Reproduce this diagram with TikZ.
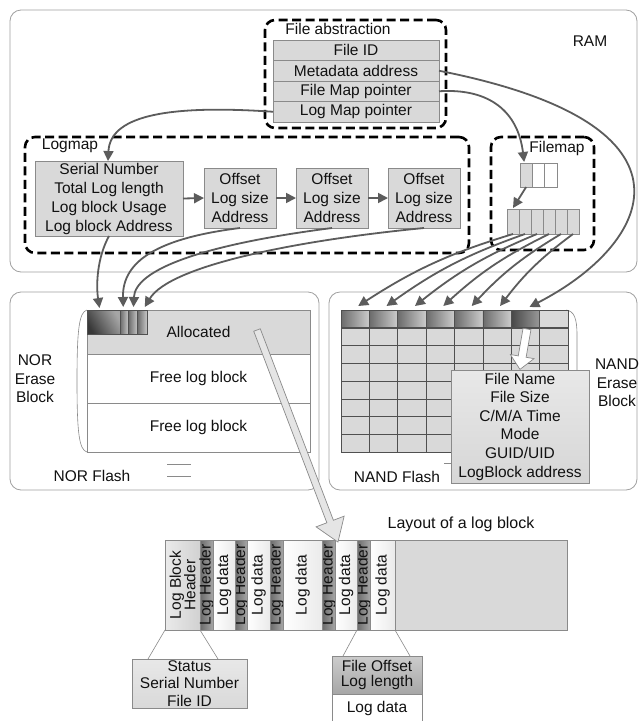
\documentclass[tikz,border=0pt]{standalone}
\usepackage{fontspec}
\setmainfont{Liberation Sans}
\usetikzlibrary{arrows.meta,calc,fit}
\definecolor{boxgray}{HTML}{D9D9D9}
\definecolor{edgegray}{HTML}{8A8A8A}
\definecolor{arrowgray}{HTML}{5C5C5C}
\definecolor{framegray}{HTML}{A0A0A0}
\definecolor{gridgray}{HTML}{505050}
\definecolor{txt}{HTML}{111111}
\begin{document}
\begin{tikzpicture}[x=1pt,y=-1pt,
  every node/.style={font=\fontsize{15.5}{19}\selectfont, text=txt, inner sep=0pt, outer sep=0pt},
  region/.style={draw=framegray, line width=0.8pt, rounded corners=11pt},
  dashbox/.style={draw=black, line width=2.6pt, dash pattern=on 9pt off 4.5pt, rounded corners=10pt},
  gbox/.style={draw=edgegray, fill=boxgray, line width=0.8pt},
  wbox/.style={draw=edgegray, fill=white, line width=0.8pt},
  conn/.style={draw=arrowgray, line width=1.8pt, -{Triangle[length=10pt,width=10pt]}},
  fineline/.style={draw=edgegray, line width=0.6pt},
  hdA/.style={draw=gridgray, line width=0.6pt, left color=black!58, right color=black!20},
  hdB/.style={draw=gridgray, line width=0.6pt, left color=black!72, right color=black!40},
  hdC/.style={draw=gridgray, line width=0.6pt, fill=boxgray},
  lhead/.style={draw=edgegray, line width=0.6pt, left color=black!58, right color=black!35},
  ldata/.style={draw=edgegray, line width=0.6pt, left color=white, right color=black!8},
  hollow/.style={draw=edgegray, line width=0.7pt},
  label/.style={align=center},
]
\useasboundingbox (0,0) rectangle (639,721);
\fill[white] (0,0) rectangle (639,721);

% ---------- regions ----------
\node[region, fit={(10,10) (637,272)}] (ram) {};
\node[region, fit={(10,292) (319,490)}] (norreg) {};
\node[region, fit={(329,292) (637,490)}] (nandreg) {};
\node (ramlbl) at (590,41) {RAM};

% ---------- file abstraction ----------
\node[dashbox, fit={(265,20) (446,128)}] (fabs) {};
\node (fabslbl) at (338,29) {File abstraction};
\node[gbox, fit={(273,40) (439,60.5)}] (fid) {};
\node[gbox, fit={(273,60.5) (439,81)}] (meta) {};
\node[gbox, fit={(273,81) (439,101.5)}] (fmp) {};
\node[gbox, fit={(273,101.5) (439,122)}] (lmp) {};
\node (fidt) at (fid.center) {File ID};
\node (metat) at (meta.center) {Metadata address};
\node (fmpt) at (fmp.center) {File Map pointer};
\node (lmpt) at (lmp.center) {Log Map pointer};

% ---------- logmap ----------
\node[dashbox, fit={(25,137) (469,253)}] (logmap) {};
\node (logmaplbl) at (70,146) {Logmap};
\node[gbox, fit={(35,161) (183,236)}] (lmain) {};
\node[label] (lmaint) at (lmain.center) {Serial Number\\Total Log length\\Log block Usage\\Log block Address};
\node[gbox, fit={(204,168) (276,228)}] (off1) {};
\node[gbox, fit={(296,168) (368,228)}] (off2) {};
\node[gbox, fit={(388,168) (460,228)}] (off3) {};
\node[label] (off1t) at (off1.center) {Offset\\Log size\\Address};
\node[label] (off2t) at (off2.center) {Offset\\Log size\\Address};
\node[label] (off3t) at (off3.center) {Offset\\Log size\\Address};
\draw[conn] (lmain.east) -- (off1.west);
\draw[conn] (off1.east) -- (off2.west);
\draw[conn] (off2.east) -- (off3.west);

% ---------- filemap ----------
\node[dashbox, fit={(491,137) (594,250)}] (fmap) {};
\node (fmaplbl) at (557,148) {Filemap};
\node[gbox, fit={(520,163) (532.3,187)}] (sa1) {};
\node[wbox, fit={(532.3,163) (544.6,187)}] (sa2) {};
\node[wbox, fit={(544.6,163) (557,187)}] (sa3) {};
\foreach \i in {1,...,6} {
  \pgfmathsetmacro\xa{507+12*(\i-1)}
  \pgfmathsetmacro\xb{507+12*\i}
  \node[gbox, fit={(\xa,209) (\xb,234)}] (fb\i) {};
}
\draw[conn] (sa1.south) -- ($(fb1.north)+(0,-1)$);

% ---------- NOR flash ----------
\draw[fineline] (87,310) .. controls (79,312) and (77,330) .. (77,381)
                .. controls (77,432) and (79,450) .. (87,452);
\node[gbox, line width=0.6pt, fit={(87,310) (310,354)}] (alloc) {};
\node[wbox, line width=0.6pt, fit={(87,354) (310,403)}] (free1) {};
\node[wbox, line width=0.6pt, fit={(87,403) (310,452)}] (free2) {};
\node (alloct) at (alloc.center) {Allocated};
\node (free1t) at (free1.center) {Free log block};
\node (free2t) at (free2.center) {Free log block};
\node[draw=gridgray, line width=0.6pt, left color=black!78, right color=black!35, shading angle=120, fit={(87,310) (120,334)}] (nord) {};
\node[draw=gridgray, line width=0.6pt, left color=black!58, right color=black!22, fit={(120,310) (128.5,334)}] (nors1) {};
\node[draw=gridgray, line width=0.6pt, left color=black!58, right color=black!22, fit={(128.5,310) (137.5,334)}] (nors2) {};
\node[draw=gridgray, line width=0.6pt, left color=black!58, right color=black!22, fit={(137.5,310) (147,334)}] (nors3) {};
\node[label, font=\fontsize{15.5}{18.5}\selectfont] (norerase) at (35,379) {NOR\\Erase\\Block};
\node (norflash) at (92,476) {NOR Flash};
\draw[fineline] (167,464) -- (191,464);
\draw[fineline] (167,476) -- (191,476);

% ---------- NAND flash ----------
\draw[fineline] (566,310) .. controls (574,311) and (577,318) .. (577,335) -- (577,420);
\fill[boxgray] (341,327.8) rectangle (568,452);
\foreach \i/\st in {1/hdA,2/hdA,3/hdA,4/hdA,5/hdA,6/hdA,7/hdB,8/hdC} {
  \pgfmathsetmacro\xa{341+28.375*(\i-1)}
  \pgfmathsetmacro\xb{341+28.375*\i}
  \node[\st, fit={(\xa,310) (\xb,327.8)}] (h\i) {};
}
\foreach \k in {0,...,8} {
  \pgfmathsetmacro\xx{341+28.375*\k}
  \draw[gridgray, line width=0.6pt] (\xx,327.8) -- (\xx,452);
}
\foreach \k in {1,...,8} {
  \pgfmathsetmacro\yy{310+17.775*\k}
  \draw[gridgray, line width=0.6pt] (341,\yy) -- (568,\yy);
}
\node[draw=edgegray, line width=0.8pt, top color=black!9, bottom color=black!16,
      fit={(451,370) (589,483)}] (info) {};
\node[label, font=\fontsize{15.5}{18.6}\selectfont] (infot) at (info.center)
      {File Name\\File Size\\C/M/A Time\\Mode\\GUID/UID\\LogBlock address};
\node[label, font=\fontsize{15.5}{18.5}\selectfont] (nanderase) at (617,383) {NAND\\Erase\\Block};
\node (nandflash) at (397,477) {NAND Flash};
\draw[fineline] (444,463) -- (451,463);

% hollow arrow (NAND cell -> info box)
\begin{scope}[shift={(527,329)}, rotate=-99.9]
  \filldraw[hollow, fill=white] (0,-4) -- (28,-4) -- (28,-12) -- (41,0) -- (28,12) -- (28,4) -- (0,4) -- cycle;
\end{scope}

% ---------- connectors from RAM ----------
\draw[conn] (lmp.west) .. controls (160,104) and (110,118) .. ($(lmain.north)+(-1,0)$);
\draw[conn] (fmp.east) .. controls (490,88) and (518,112) .. ($(sa1.north)+(-2,-1)$);
\draw[conn] (meta.east) .. controls (715,125) and (650,245) .. ($(h7.north)+(4,-3)$);
\foreach \i in {1,...,6} {
  \draw[conn] (fb\i.south) to[bend right=8] ($(h\i.north)+(3,-4)$);
}
\draw[conn] (lmain.south) .. controls (97,258) and (96,285) .. ($(nord.north)+(-4,-2)$);
\draw[conn] (off1.south) .. controls (160,238) and (122,260) .. ($(nors1.north)+(-1,-3)$);
\draw[conn] (off2.south) .. controls (200,245) and (135,270) .. ($(nors2.north)+(0.5,-3)$);
\draw[conn] (off3.south) .. controls (300,240) and (170,265) .. ($(nors3.north)+(2.5,-3)$);

% ---------- layout of a log block ----------
\node[font=\fontsize{16}{19}\selectfont] (lytitle) at (461,524) {Layout of a log block};
\node[draw=edgegray, line width=0.6pt, left color=black!8, right color=black!18, fit={(165,540) (200,630)}] (lbh) {};
\node[rotate=90, label, font=\fontsize{15.5}{14.5}\selectfont] (lbhtxt) at (lbh.center) {Log Block\\Header};
\foreach \n/\a/\b in {1/200/213,2/235/247,3/270/283,4/322/335,5/357/370} {
  \node[lhead, fit={(\a,540) (\b,630)}] (hd\n) {};
  \node[rotate=90] (hdt\n) at (hd\n.center) {Log Header};
}
\foreach \n/\a/\b in {1/213/235,2/247/270,3/283/322,4/335/357,5/370/395} {
  \node[ldata, fit={(\a,540) (\b,630)}] (dt\n) {};
  \node[rotate=90] (dtt\n) at (dt\n.center) {Log data};
}
\node[gbox, line width=0.6pt, fit={(395,540) (567,630)}] (rest) {};

\node[draw=edgegray, line width=0.6pt, top color=black!9, bottom color=black!15,
      fit={(132,659) (247,708)}] (status) {};
\node[label, font=\fontsize{15.5}{17.5}\selectfont] (statust) at (status.center) {Status\\Serial Number\\File ID};
\draw[fineline] (lbh.south west) -- ($(status.north west)+(16,0)$);
\draw[fineline] (lbh.south east) -- ($(status.north east)+(-29,0)$);

\node[draw=edgegray, line width=0.6pt, top color=black!20, bottom color=black!35,
      fit={(332,656) (422,694)}] (foff) {};
\node[label, font=\fontsize{15.5}{15.5}\selectfont] (sofft) at (foff.center) {File Offset\\Log length};
\node[wbox, line width=0.6pt, fit={(332,694) (422,726)}] (fdata) {};
\node (fdatatxt) at (377,708) {Log data};
\draw[fineline] (hd5.south west) -- ($(foff.north west)+(11,0)$);
\draw[fineline] (dt5.south east) -- ($(foff.north east)+(-12,0)$);

% big hollow arrow (Allocated -> layout)
\begin{scope}[shift={(257,330)}, rotate=-69.1]
  \filldraw[hollow, fill=black!10] (0,-3.5) -- (205,-3.5) -- (205,-15) -- (227,0) -- (205,15) -- (205,3.5) -- (0,3.5) -- cycle;
\end{scope}
\end{tikzpicture}
\end{document}
